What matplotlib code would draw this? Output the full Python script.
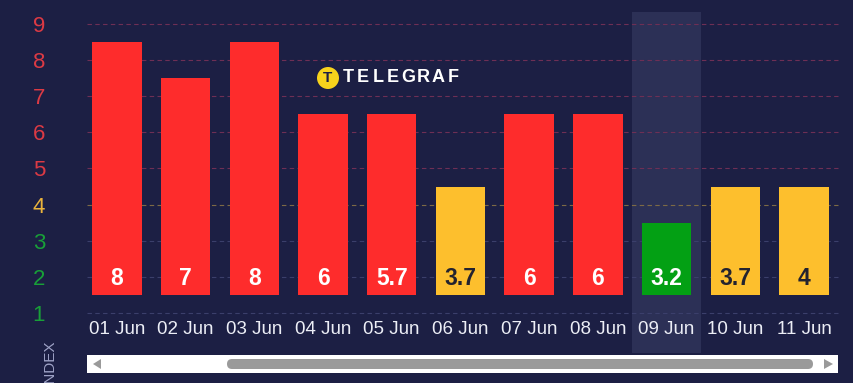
import numpy as np
import matplotlib
matplotlib.use("Agg")
import matplotlib.pyplot as plt
from matplotlib.patches import Rectangle, FancyBboxPatch, Circle, Polygon
from matplotlib.transforms import blended_transform_factory

plt.rcParams['font.family'] = ['Liberation Sans', 'DejaVu Sans']

# data
days = ['01 Jun', '02 Jun', '03 Jun', '04 Jun', '05 Jun', '06 Jun',
        '07 Jun', '08 Jun', '09 Jun', '10 Jun', '11 Jun']
index_values = [8, 7, 8, 6, 5.7, 3.7, 6, 6, 3.2, 3.7, 4]
bar_tops = [8.5, 7.5, 8.5, 6.5, 6.5, 4.5, 6.5, 6.5, 3.5, 4.5, 4.5]
bar_base = 1.5
y_levels = [1, 2, 3, 4, 5, 6, 7, 8, 9]
highlight_day = '09 Jun'

BG = '#1c1f44'
RED = '#fe2c2c'
YELLOW = '#fdbf2d'
GREEN = '#03a014'


def level_color(v):
    if v >= 5:
        return RED
    if v >= 3.5:
        return YELLOW
    return GREEN


def tick_color(y):
    if y >= 5:
        return '#dc3a44'
    if y == 4:
        return '#eab33c'
    return '#18a038'


def grid_color(y):
    if y >= 5:
        return '#6e2f55'
    if y == 4:
        return '#7d6a45'
    return '#3b3f6b'


W, H = 854, 383
fig = plt.figure(figsize=(W / 100, H / 100), dpi=100, facecolor=BG)
ax = fig.add_axes([82.6 / W, (H - 316.6) / H, (838.3 - 82.6) / W, (316.6 - 12) / H])
ax.set_facecolor(BG)
for s in ax.spines.values():
    s.set_visible(False)

x = np.arange(len(days))
ax.set_xlim(-0.5, len(days) - 0.5)
ax.set_ylim(0.9, 9.33)

# highlighted column
trans = blended_transform_factory(ax.transData, ax.transAxes)
hi = days.index(highlight_day)
ax.add_patch(Rectangle((hi - 0.5, -0.12), 1, 1.12, transform=trans,
                       facecolor='#2c3056', edgecolor='none', zorder=0, clip_on=False))

# dashed gridlines
for y in y_levels:
    ax.axhline(y, xmin=0.006, xmax=1, color=grid_color(y), lw=0.8,
               ls=(0, (4, 3)), zorder=1, clip_on=False)

heights = np.array(bar_tops) - bar_base
colors = [level_color(v) for v in index_values]
ax.bar(x, heights, bottom=bar_base, width=0.72, color=colors, zorder=2)

for xi, v, c in zip(x, index_values, colors):
    tc = '#23232f' if c == YELLOW else 'white'
    ax.text(xi, 1.95, f'{v:g}', ha='center', va='center', color=tc,
            fontsize=16.5, fontweight='bold', zorder=3)

ax.set_xticks(x)
ax.set_xticklabels(days, color='#eceef6', fontsize=13.5)
ax.set_yticks(y_levels)
ax.set_yticklabels([str(y) for y in y_levels], fontsize=16)
for lab, y in zip(ax.get_yticklabels(), y_levels):
    lab.set_color(tick_color(y))
ax.tick_params(axis='x', length=0, pad=3)
ax.tick_params(axis='y', length=0, pad=27)

# logo
fig.add_artist(Circle((328, H - 78), 11, transform=None, facecolor='#f7d31c',
                      edgecolor='none', zorder=2))
fig.text(328 / W, 1 - 78.5 / H, 'T', ha='center', va='center', color=BG,
         fontsize=11, fontweight='bold', zorder=4)
for i, ch in enumerate('TELEGRAF'):
    fig.text((348 + i * 15.0) / W, 1 - 78 / H, ch, ha='center', va='center',
             color='white', fontsize=13, fontweight='bold')

# axis title (cut off at the bottom like the source)
fig.text(49.5 / W, 1 - 340 / H, 'INDEX', rotation=90, ha='center', va='top',
         color='#9ea2c6', fontsize=11)

# scrollbar
fig.patches.append(Rectangle((87, H - 373), 751, 18, transform=None,
                             facecolor='white', edgecolor='none'))
fig.patches.append(FancyBboxPatch((227, H - 369), 586, 10, transform=None,
                                  boxstyle='round,pad=0,rounding_size=5',
                                  facecolor='#9a9a9a', edgecolor='none'))
fig.patches.append(Polygon([[93, H - 364], [101, H - 359], [101, H - 369]],
                           closed=True, transform=None, facecolor='#9a9a9a',
                           edgecolor='none'))
fig.patches.append(Polygon([[833, H - 364], [824, H - 359], [824, H - 369]],
                           closed=True, transform=None, facecolor='#9a9a9a',
                           edgecolor='none'))

fig.savefig('out.png', dpi=100, facecolor=BG)
